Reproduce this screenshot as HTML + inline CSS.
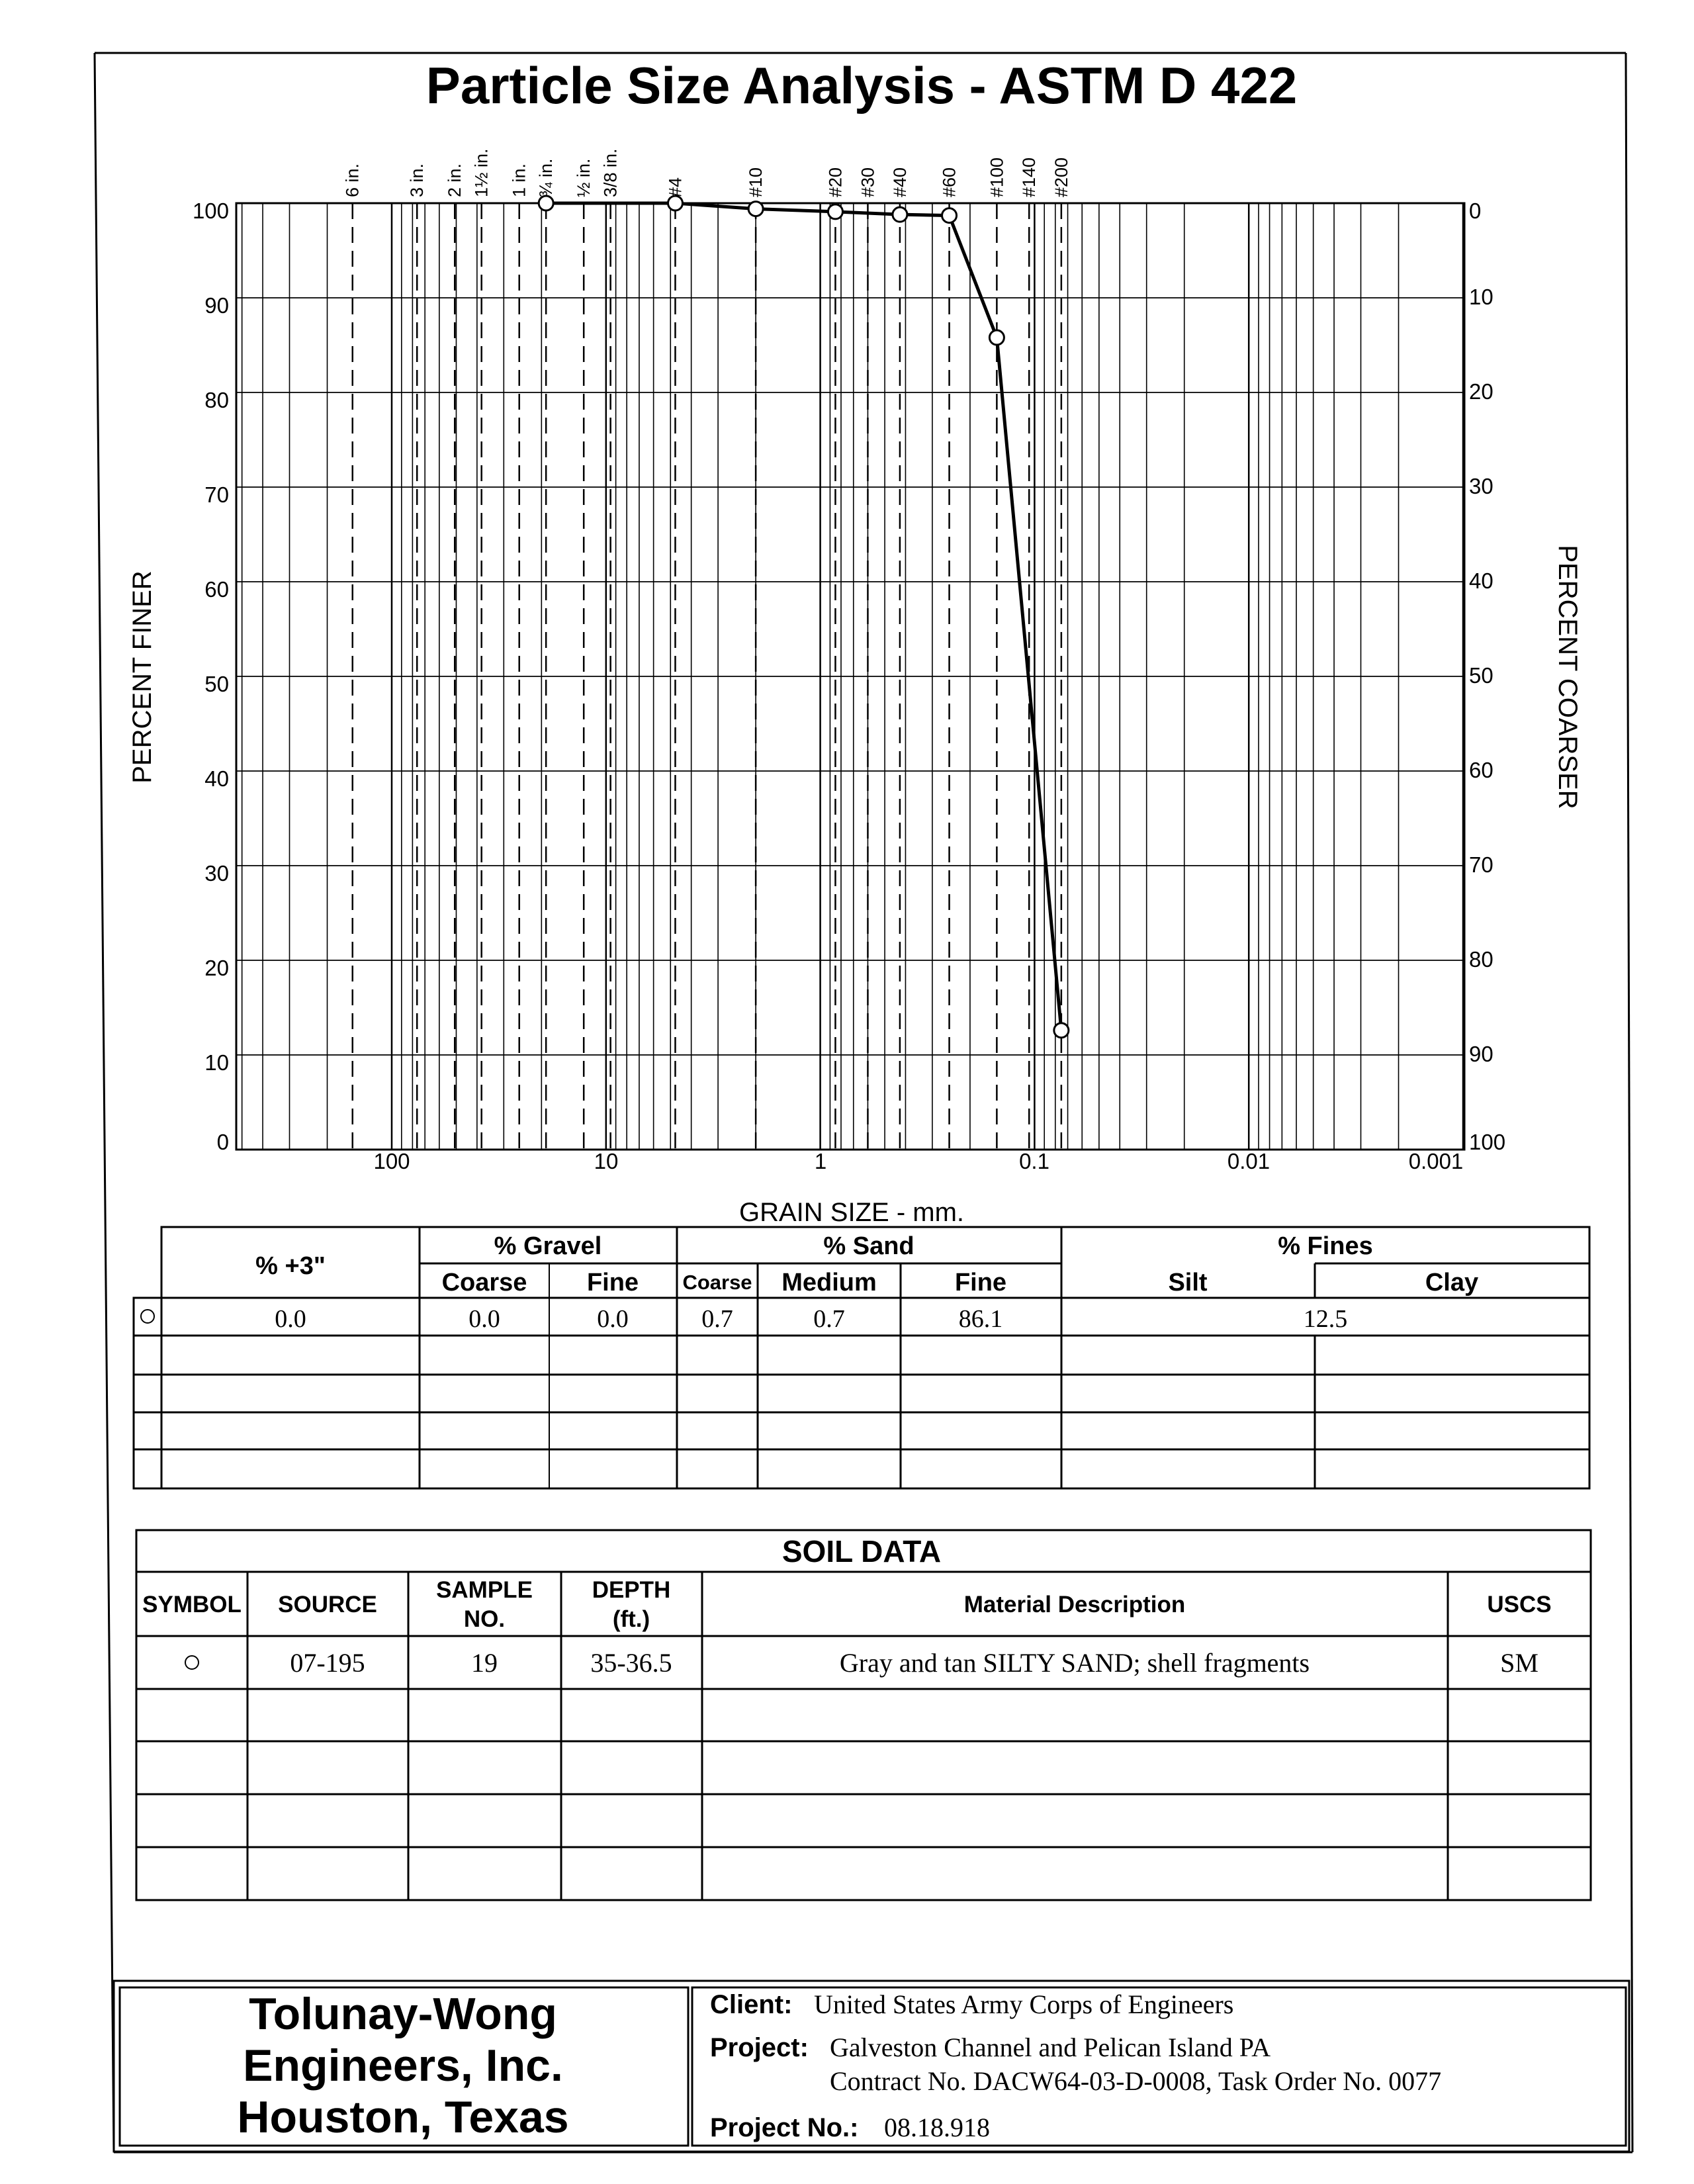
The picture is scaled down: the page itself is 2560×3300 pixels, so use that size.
<!DOCTYPE html>
<html><head><meta charset="utf-8"><style>
html,body{margin:0;padding:0;background:#fff;}
svg{display:block}
.s{font-family:"Liberation Sans",sans-serif;}
.r{font-family:"Liberation Serif",serif;}
</style></head><body>
<svg id="c" width="2560" height="3300" viewBox="0 0 2560 3300" xmlns="http://www.w3.org/2000/svg">
<rect width="2560" height="3300" fill="#fff"/>
<line x1="143" y1="80" x2="172" y2="3252" stroke="#000" stroke-width="3"/>
<line x1="143" y1="80" x2="2457" y2="80" stroke="#000" stroke-width="3"/>
<line x1="2457" y1="80" x2="2467" y2="3252" stroke="#000" stroke-width="3"/>
<line x1="172" y1="3252" x2="2467" y2="3252" stroke="#000" stroke-width="3"/>

<text class="s" x="1302" y="156" font-size="78" font-weight="bold" text-anchor="middle">Particle Size Analysis - ASTM D 422</text>

<g id="grid"></g>
<rect x="357" y="307" width="1856" height="1430" fill="none" stroke="#000" stroke-width="3"/>

<g class="s" font-size="33" text-anchor="end">
<text x="346" y="330">100</text><text x="346" y="473">90</text><text x="346" y="616">80</text><text x="346" y="759">70</text><text x="346" y="902">60</text><text x="346" y="1045">50</text><text x="346" y="1188">40</text><text x="346" y="1331">30</text><text x="346" y="1474">20</text><text x="346" y="1617">10</text><text x="346" y="1737">0</text>
</g>
<g class="s" font-size="33">
<text x="2220" y="330">0</text><text x="2220" y="460">10</text><text x="2220" y="603">20</text><text x="2220" y="746">30</text><text x="2220" y="889">40</text><text x="2220" y="1032">50</text><text x="2220" y="1175">60</text><text x="2220" y="1318">70</text><text x="2220" y="1461">80</text><text x="2220" y="1604">90</text><text x="2220" y="1737">100</text>
</g>
<g class="s" font-size="33" text-anchor="middle">
<text x="592" y="1766">100</text><text x="916" y="1766">10</text><text x="1240" y="1766">1</text><text x="1563" y="1766">0.1</text><text x="1887" y="1766">0.01</text><text x="2170" y="1766">0.001</text>
</g>
<text class="s" x="1287" y="1845" font-size="40" text-anchor="middle">GRAIN SIZE - mm.</text>
<text class="s" font-size="40" text-anchor="middle" transform="translate(228,1023) rotate(-90)">PERCENT FINER</text>
<text class="s" font-size="40" text-anchor="middle" transform="translate(2356,1023) rotate(90)">PERCENT COARSER</text>

<g class="s" font-size="27" id="sl" text-anchor="start"></g>
<g id="data"></g>

<g stroke="#000" stroke-width="3" fill="none">
<rect x="244" y="1854" width="2158" height="395"/>
<rect x="202" y="1961" width="42" height="288"/>
<line x1="634" y1="1909" x2="1604" y2="1909"/>
<line x1="1987" y1="1909" x2="2402" y2="1909"/>
<line x1="244" y1="1961" x2="2402" y2="1961"/>
<line x1="202" y1="2018" x2="2402" y2="2018"/>
<line x1="202" y1="2077" x2="2402" y2="2077"/>
<line x1="202" y1="2134" x2="2402" y2="2134"/>
<line x1="202" y1="2190" x2="2402" y2="2190"/>
<line x1="634" y1="1854" x2="634" y2="2249"/>
<line x1="1023" y1="1854" x2="1023" y2="2249"/>
<line x1="1604" y1="1854" x2="1604" y2="2249"/>
<line x1="830" y1="1909" x2="830" y2="2249" stroke-width="2"/>
<line x1="1145" y1="1909" x2="1145" y2="2249"/>
<line x1="1361" y1="1909" x2="1361" y2="2249"/>
<line x1="1987" y1="1909" x2="1987" y2="1961"/>
<line x1="1987" y1="2018" x2="1987" y2="2249"/>
<circle cx="223" cy="1989" r="10" stroke-width="2"/>
</g>
<g class="s" font-size="38" font-weight="bold" text-anchor="middle">
<text x="439" y="1925">% +3"</text>
<text x="828" y="1895">% Gravel</text>
<text x="1313" y="1895">% Sand</text>
<text x="2003" y="1895">% Fines</text>
<text x="732" y="1950">Coarse</text>
<text x="926" y="1950">Fine</text>
<text x="1084" y="1948" font-size="31">Coarse</text>
<text x="1253" y="1950">Medium</text>
<text x="1482" y="1950">Fine</text>
<text x="1795" y="1950">Silt</text>
<text x="2194" y="1950">Clay</text>
</g>
<g class="r" font-size="38" text-anchor="middle">
<text x="439" y="2005">0.0</text><text x="732" y="2005">0.0</text><text x="926" y="2005">0.0</text><text x="1084" y="2005">0.7</text><text x="1253" y="2005">0.7</text><text x="1482" y="2005">86.1</text><text x="2003" y="2005">12.5</text>
</g>

<g stroke="#000" stroke-width="3" fill="none">
<rect x="206" y="2312" width="2198" height="559"/>
<line x1="206" y1="2375" x2="2404" y2="2375"/>
<line x1="206" y1="2472" x2="2404" y2="2472"/>
<line x1="206" y1="2552" x2="2404" y2="2552"/>
<line x1="206" y1="2631" x2="2404" y2="2631"/>
<line x1="206" y1="2711" x2="2404" y2="2711"/>
<line x1="206" y1="2791" x2="2404" y2="2791"/>
<line x1="374" y1="2375" x2="374" y2="2871"/>
<line x1="617" y1="2375" x2="617" y2="2871"/>
<line x1="848" y1="2375" x2="848" y2="2871"/>
<line x1="1061" y1="2375" x2="1061" y2="2871"/>
<line x1="2188" y1="2375" x2="2188" y2="2871"/>
<circle cx="290" cy="2512" r="10" stroke-width="2"/>
</g>
<text class="s" x="1302" y="2360" font-size="46" font-weight="bold" text-anchor="middle">SOIL DATA</text>
<g class="s" font-size="35" font-weight="bold" text-anchor="middle">
<text x="290" y="2436">SYMBOL</text>
<text x="495" y="2436">SOURCE</text>
<text x="732" y="2414">SAMPLE</text><text x="732" y="2458">NO.</text>
<text x="954" y="2414">DEPTH</text><text x="954" y="2458">(ft.)</text>
<text x="1624" y="2436">Material Description</text>
<text x="2296" y="2436">USCS</text>
</g>
<g class="r" font-size="40" text-anchor="middle">
<text x="495" y="2526">07-195</text><text x="732" y="2526">19</text><text x="954" y="2526">35-36.5</text>
<text x="1624" y="2526">Gray and tan SILTY SAND; shell fragments</text><text x="2296" y="2526">SM</text>
</g>

<g stroke="#000" fill="none">
<rect x="172" y="2993" width="2290" height="258" stroke-width="3"/>
<rect x="181" y="3003" width="859" height="239" stroke-width="3"/>
<rect x="1046" y="3003" width="1411" height="239" stroke-width="3"/>
</g>
<g class="s" font-size="68" font-weight="bold" text-anchor="middle">
<text x="609" y="3066">Tolunay-Wong</text>
<text x="609" y="3144">Engineers, Inc.</text>
<text x="609" y="3222">Houston, Texas</text>
</g>
<g font-size="40">
<text class="s" x="1073" y="3042" font-weight="bold">Client:</text>
<text class="r" x="1230" y="3042">United States Army Corps of Engineers</text>
<text class="s" x="1073" y="3107" font-weight="bold">Project:</text>
<text class="r" x="1254" y="3107">Galveston Channel and Pelican Island PA</text>
<text class="r" x="1254" y="3158">Contract No. DACW64-03-D-0008, Task Order No. 0077</text>
<text class="s" x="1073" y="3228" font-weight="bold">Project No.:</text>
<text class="r" x="1336" y="3228">08.18.918</text>
</g>
</svg>
<script>
(function(){
var NS="http://www.w3.org/2000/svg";
function X(d){return 592+(2-Math.log10(d))*323.8;}
function Y(p){return 1737-p*14.3;}
function el(t,a,par){var e=document.createElementNS(NS,t);for(var k in a)e.setAttribute(k,a[k]);par.appendChild(e);return e;}
var g=document.getElementById('grid');
for(var e=-3;e<=2;e++){for(var m=1;m<=9;m++){var d=m*Math.pow(10,e);var x=X(d);if(x<357||x>2213)continue;
el('line',{x1:x,y1:307,x2:x,y2:1737,stroke:'#000','stroke-width':m==1?2.5:1.6},g);}}
for(var p=10;p<100;p+=10){el('line',{x1:357,y1:Y(p),x2:2213,y2:Y(p),stroke:'#000','stroke-width':1.8},g);}
var sv=[[152.4,'6 in.'],[76.2,'3 in.'],[50.8,'2 in.'],[38.1,'1½ in.'],[25.4,'1 in.'],[19.05,'¾ in.'],[12.7,'½ in.'],[9.525,'3/8 in.'],[4.75,'#4'],[2.0,'#10'],[0.85,'#20'],[0.6,'#30'],[0.425,'#40'],[0.25,'#60'],[0.15,'#100'],[0.106,'#140'],[0.075,'#200']];
var sl=document.getElementById('sl');
sv.forEach(function(s){var x=X(s[0]);
el('line',{x1:x,y1:307,x2:x,y2:1737,stroke:'#000','stroke-width':2.5,'stroke-dasharray':'24,12'},g);
var t=el('text',{transform:'translate('+(x+9)+',298) rotate(-90)'},sl);t.textContent=s[1];});
var dat=[[19.05,100],[4.75,100],[2.0,99.4],[0.85,99.1],[0.425,98.8],[0.25,98.7],[0.15,85.8],[0.075,12.6]];
var dg=document.getElementById('data');
var pts=dat.map(function(q){return X(q[0])+','+Y(q[1]);}).join(' ');
el('polyline',{points:pts,fill:'none',stroke:'#000','stroke-width':5},dg);
dat.forEach(function(q){el('circle',{cx:X(q[0]),cy:Y(q[1]),r:11,fill:'#fff',stroke:'#000','stroke-width':3},dg);});
})();
</script>
</body></html>
